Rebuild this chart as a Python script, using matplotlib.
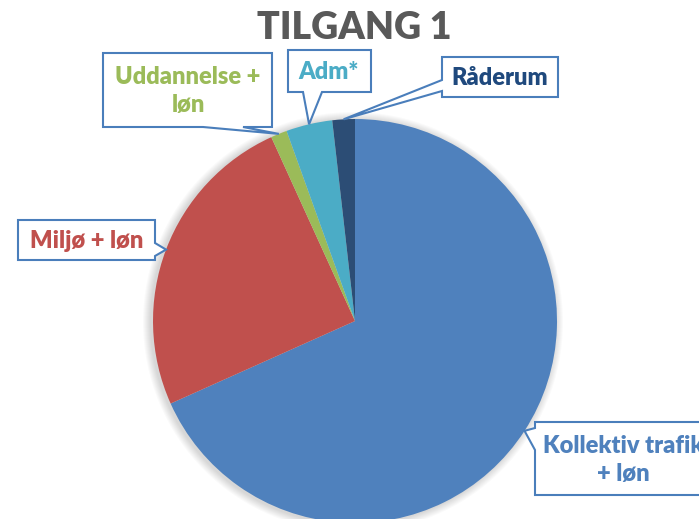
import numpy as np
import matplotlib.pyplot as plt
from matplotlib.patches import Polygon, Circle

# andele af tilgang (%)
kategorier = ['Kollektiv trafik\n+ løn', 'Miljø + løn', 'Uddannelse +\nløn', 'Adm*', 'Råderum']
andele = [68.3, 24.9, 1.3, 3.7, 1.8]
farver = ['#4F81BD', '#C0504D', '#9BBB59', '#4BACC6', '#2C4D75']
tekstfarver = ['#4F81BD', '#C0504D', '#9BBB59', '#4BACC6', '#1F497D']

W, H = 699, 519
fig = plt.figure(figsize=(W / 100, H / 100), dpi=100)
ax = fig.add_axes([0, 0, 1, 1])

cx, cy, r = 355, H - 321, 202

# blød skygge bag lagkagen
for k in range(1, 9):
    ax.add_patch(Circle((cx - 2, cy - 1), r + k, color='#000000', alpha=0.018, lw=0, zorder=0))

wedges, _ = ax.pie(andele, colors=farver, startangle=90, counterclock=False,
                   center=(cx, cy), radius=r, wedgeprops=dict(linewidth=0))

ax.set_xlim(0, W)
ax.set_ylim(0, H)
ax.set_aspect('auto')
ax.axis('off')

# tekstbokse: (x0, top, x1, bund) i pixel fra toppen, side for pil, pilbasis, tekstcentrum
bokse = [
    ((535, 422, 712, 495), 'left', (428, 450), (623, 460)),
    ((18, 220, 155, 260), 'right', (243, 256), (87, 241)),
    ((103, 53, 272, 127), 'bottom', (203, 243), (188, 91)),
    ((288, 50, 371, 92), 'bottom', (303, 322), (329, 72)),
    ((442, 57, 558, 97), 'left', (80, 91), (500, 78)),
]

blaa = '#4A7EBB'
for w, navn, tf, (boks, side, basis, tpos) in zip(wedges, kategorier, tekstfarver, bokse):
    mid = np.deg2rad((w.theta1 + w.theta2) / 2)
    tip = (cx + r * np.cos(mid), cy + r * np.sin(mid))
    x0, t, x1, b = boks
    yt, yb = H - t, H - b
    if side == 'left':
        pts = [(x0, yt), (x1, yt), (x1, yb), (x0, yb),
               (x0, H - basis[1]), tip, (x0, H - basis[0])]
    elif side == 'right':
        pts = [(x0, yt), (x1, yt), (x1, H - basis[0]), tip,
               (x1, H - basis[1]), (x1, yb), (x0, yb)]
    else:
        pts = [(x0, yt), (x1, yt), (x1, yb), (basis[1], yb), tip,
               (basis[0], yb), (x0, yb)]
    ax.add_patch(Polygon(pts, closed=True, facecolor='white', edgecolor=blaa,
                         lw=1.5, zorder=5, clip_on=False))
    ax.text(tpos[0], H - tpos[1], navn, color=tf, fontsize=17, fontweight='heavy',
            family='Lato', ha='center', va='center', linespacing=1.32, zorder=6)

ax.text(354, H - 28, 'TILGANG 1', color='#595959', fontsize=27, fontweight='heavy',
        family='Lato', ha='center', va='center')

fig.savefig('out.png', dpi=100)
